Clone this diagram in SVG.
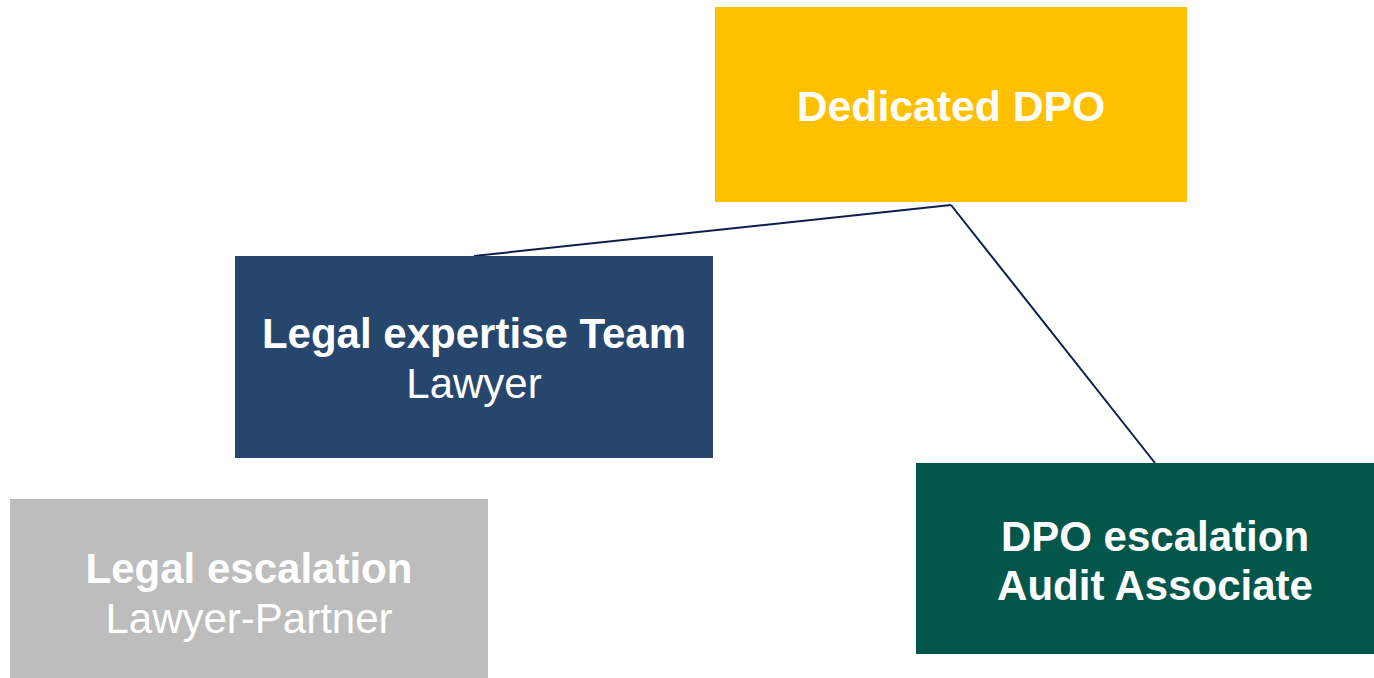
<svg xmlns="http://www.w3.org/2000/svg" width="1374" height="678" viewBox="0 0 1374 678">
<style>
text{font-family:"Liberation Sans",Arial,sans-serif;fill:#ffffff;text-anchor:middle}
.b{font-weight:bold;font-size:42px}
.r{font-size:42px}
.t{font-weight:bold;font-size:42.7px}
.conn{stroke:#0c1f4a;stroke-width:2;fill:none}
</style>
<rect width="1374" height="678" fill="#ffffff"/>
<g id="connectors">
<line class="conn" x1="951" y1="205" x2="474" y2="256"/>
<line class="conn" x1="951" y1="205" x2="1155" y2="463"/>
</g>
<g id="dedicated-dpo">
<rect x="715" y="7" width="472" height="195" fill="#FFC000"/>
<text class="t" x="951" y="121">Dedicated DPO</text>
</g>
<g id="legal-expertise">
<rect x="235" y="256" width="478" height="202" fill="#27466E"/>
<text class="b" x="474" y="348">Legal expertise Team</text>
<text class="r" x="474" y="398">Lawyer</text>
</g>
<g id="legal-escalation">
<rect x="10" y="499" width="478" height="179" fill="#BDBDBD"/>
<text class="b" x="249" y="583">Legal escalation</text>
<text class="r" x="249" y="633">Lawyer-Partner</text>
</g>
<g id="dpo-escalation">
<rect x="916" y="463" width="458" height="191" fill="#03574A"/>
<text class="b" x="1155" y="551">DPO escalation</text>
<text class="b" x="1155" y="600">Audit Associate</text>
</g>
</svg>
